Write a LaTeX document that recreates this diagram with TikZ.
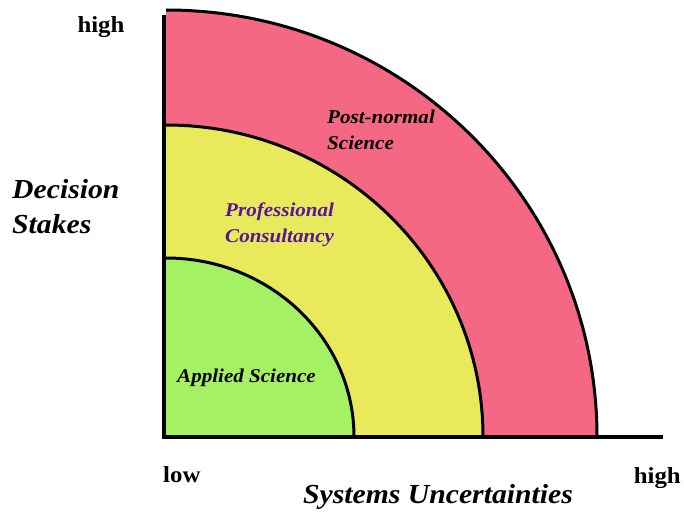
\documentclass[tikz,border=0pt]{standalone}
\usepackage{fontspec}
\setmainfont{Liberation Serif}
\newfontfamily\widefont[FakeStretch=1.08]{Liberation Serif}
\definecolor{postnormal}{RGB}{245,104,132}
\definecolor{consultfill}{RGB}{232,234,92}
\definecolor{appliedfill}{RGB}{164,242,100}
\definecolor{consulttext}{RGB}{90,20,150}
\begin{document}
\begin{tikzpicture}[x=1pt,y=-1pt,
    rim/.style={line width=3pt},
    axisline/.style={line width=3.5pt},
    zonelbl/.style={font=\widefont\bfseries\itshape\fontsize{19.5}{26}\selectfont, align=left, anchor=west, inner sep=0pt},
    ticklbl/.style={font=\widefont\bfseries\fontsize{23}{24}\selectfont, inner sep=0pt},
    axislbl/.style={font=\widefont\bfseries\itshape\fontsize{27.5}{35}\selectfont, align=left, inner sep=0pt}]
  \useasboundingbox (0,0) rectangle (684,513);
  % quarter zones, outer first
  \coordinate (o) at (166,437);
  \fill[postnormal] (o) -- (597,437) arc[start angle=0, end angle=-90, x radius=431, y radius=427] -- cycle;
  \draw[rim] (597,437) arc[start angle=0, end angle=-90, x radius=431, y radius=427];
  \fill[consultfill] (o) -- (483,437) arc[start angle=0, end angle=-90, x radius=317, y radius=312] -- cycle;
  \draw[rim] (483,437) arc[start angle=0, end angle=-90, x radius=317, y radius=312];
  \fill[appliedfill] (o) -- (354,437) arc[start angle=0, end angle=-90, x radius=188, y radius=179] -- cycle;
  \draw[rim] (354,437) arc[start angle=0, end angle=-90, x radius=188, y radius=179];
  % axes
  \coordinate (ytop) at (164,15);
  \coordinate (corner) at (164,437);
  \coordinate (xend) at (663,437);
  \draw[axisline] (ytop) -- (corner) -- (xend);
  % labels
  \node[ticklbl] (yhigh) at (101,27) {high};
  \node[ticklbl, anchor=west] (xlow) at (163,475) {low};
  \node[ticklbl, anchor=east] (xhigh) at (681,478) {high};
  \node[axislbl, anchor=west] (stakes) at (12,207) {Decision\\Stakes};
  \node[axislbl] (uncert) at (438,497) {Systems Uncertainties};
  \node[zonelbl] (pns) at (327,130) {Post-normal\\Science};
  \node[zonelbl, text=consulttext] (pc) at (225,225) {Professional\\Consultancy};
  \node[zonelbl] (as) at (177,378) {Applied Science};
\end{tikzpicture}
\end{document}
